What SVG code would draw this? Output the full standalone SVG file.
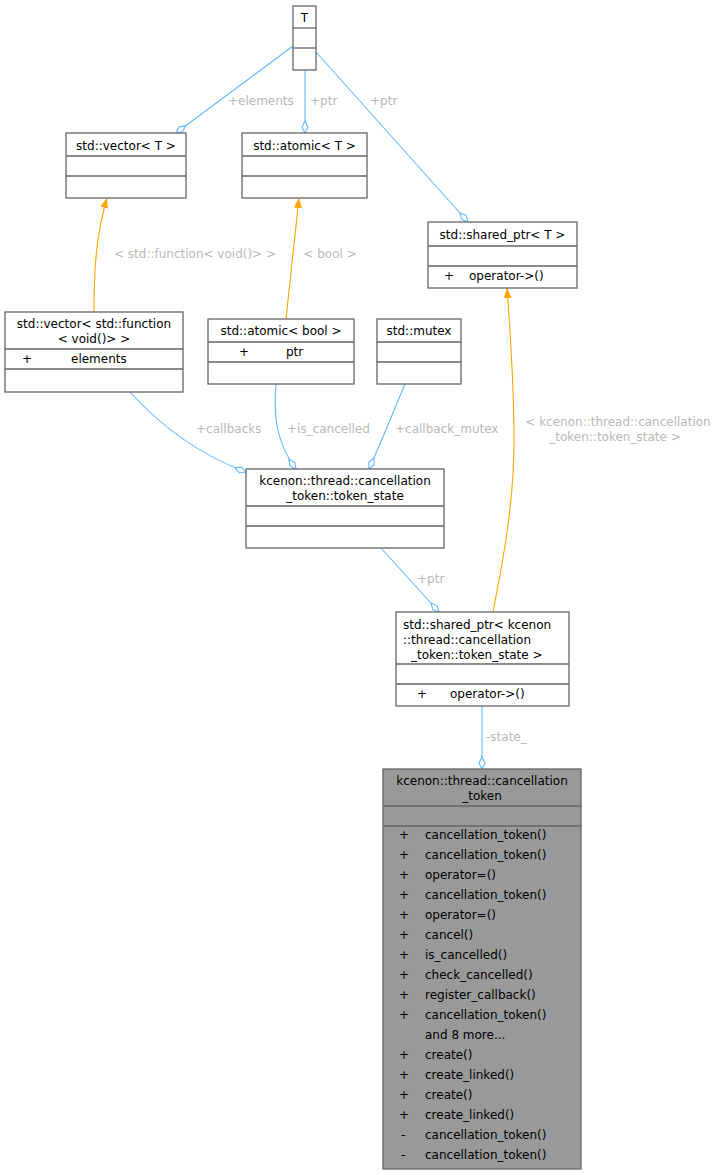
<svg xmlns="http://www.w3.org/2000/svg" width="724" height="1175" viewBox="0 0 724 1175">
<style>
text{font-family:"DejaVu Sans",sans-serif;font-size:12px;fill:#000}
.n rect,.n line{stroke:#666;stroke-width:1.3;fill:#fff}
.n line{fill:none}
.g rect{fill:#999}
.c{text-anchor:middle}
.e path{fill:none;stroke-width:1.1}
.b{stroke:#63b8ff}
.o{stroke:#ffa500}
.l{fill:#b8b8b8;font-size:12px}
</style>
<defs>
<marker id="d" viewBox="0 0 14 8" refX="13" refY="4" markerWidth="14" markerHeight="8" markerUnits="userSpaceOnUse" orient="auto"><path d="M1,4 L7,1 L13,4 L7,7 Z" fill="#fff" stroke="#63b8ff" stroke-width="1.1"/></marker>
<marker id="a" viewBox="0 0 10 10" refX="10" refY="5" markerWidth="10" markerHeight="10" markerUnits="userSpaceOnUse" orient="auto"><path d="M0,1 L10,5 L0,9 Z" fill="#ffa500"/></marker>
</defs>
<rect width="724" height="1175" fill="#fff"/>
<g class="e" id="edges">
<path class="b" d="M293,46 L176,133" marker-end="url(#d)"/>
<path class="b" d="M305,70 L305,133" marker-end="url(#d)"/>
<path class="b" d="M316,52 L468,222" marker-end="url(#d)"/>
<path class="o" d="M94,312 C94,270 96,235 107,198" marker-end="url(#a)"/>
<path class="o" d="M286,319 L299,198" marker-end="url(#a)"/>
<path class="o" d="M493,612 C505,550 514,500 514,440 C514,380 510,330 507,288" marker-end="url(#a)"/>
<path class="b" d="M130,392 C160,425 200,455 246,472" marker-end="url(#d)"/>
<path class="b" d="M276,384 C273,420 278,445 296,469" marker-end="url(#d)"/>
<path class="b" d="M405,384 C392,415 382,440 369,469" marker-end="url(#d)"/>
<path class="b" d="M381,548 L439,612" marker-end="url(#d)"/>
<path class="b" d="M482,706 L482,769" marker-end="url(#d)"/>
<text class="l" x="228" y="105">+elements</text>
<text class="l" x="310" y="105">+ptr</text>
<text class="l" x="370" y="105">+ptr</text>
<text class="l c" x="195" y="258">&lt; std::function&lt; void()&gt; &gt;</text>
<text class="l c" x="330" y="258">&lt; bool &gt;</text>
<text class="l c" x="618" y="426">&lt; kcenon::thread::cancellation</text>
<text class="l c" x="615" y="441">_token::token_state &gt;</text>
<text class="l" x="196" y="433">+callbacks</text>
<text class="l" x="287" y="433">+is_cancelled</text>
<text class="l" x="395" y="433">+callback_mutex</text>
<text class="l" x="417" y="583">+ptr</text>
<text class="l" x="486" y="741">-state_</text>
</g>
<g class="n" id="T"><rect x="293" y="6" width="23" height="64"/><line x1="293" y1="28" x2="316" y2="28"/><line x1="293" y1="48" x2="316" y2="48"/><text class="c" x="304.5" y="22">T</text></g>
<g class="n" id="vecT"><rect x="66" y="133" width="120" height="65"/><line x1="66" y1="156" x2="186" y2="156"/><line x1="66" y1="176" x2="186" y2="176"/><text class="c" x="126" y="150">std::vector&lt; T &gt;</text></g>
<g class="n" id="atomT"><rect x="242" y="133" width="125" height="65"/><line x1="242" y1="156" x2="367" y2="156"/><line x1="242" y1="176" x2="367" y2="176"/><text class="c" x="304.5" y="150">std::atomic&lt; T &gt;</text></g>
<g class="n" id="sptrT"><rect x="428" y="222" width="149" height="66"/><line x1="428" y1="246" x2="577" y2="246"/><line x1="428" y1="266" x2="577" y2="266"/><text class="c" x="502.5" y="239">std::shared_ptr&lt; T &gt;</text><text x="444" y="280">+</text><text x="469" y="280">operator-&gt;()</text></g>
<g class="n" id="vecF"><rect x="5" y="312" width="178" height="80"/><line x1="5" y1="349" x2="183" y2="349"/><line x1="5" y1="369" x2="183" y2="369"/><text class="c" x="94" y="328">std::vector&lt; std::function</text><text class="c" x="94" y="343">&lt; void()&gt; &gt;</text><text x="22" y="363">+</text><text x="71" y="363">elements</text></g>
<g class="n" id="atomB"><rect x="208" y="319" width="146" height="65"/><line x1="208" y1="342" x2="354" y2="342"/><line x1="208" y1="362" x2="354" y2="362"/><text class="c" x="281" y="335">std::atomic&lt; bool &gt;</text><text x="239" y="356">+</text><text x="286" y="356">ptr</text></g>
<g class="n" id="mutex"><rect x="377" y="319" width="84" height="65"/><line x1="377" y1="342" x2="461" y2="342"/><line x1="377" y1="362" x2="461" y2="362"/><text class="c" x="419" y="335">std::mutex</text></g>
<g class="n" id="ts"><rect x="246" y="469" width="198" height="79"/><line x1="246" y1="506" x2="444" y2="506"/><line x1="246" y1="526" x2="444" y2="526"/><text class="c" x="345" y="485">kcenon::thread::cancellation</text><text class="c" x="345" y="500">_token::token_state</text></g>
<g class="n" id="sptrTS"><rect x="396" y="612" width="173" height="94"/><line x1="396" y1="664" x2="569" y2="664"/><line x1="396" y1="684" x2="569" y2="684"/><text x="403" y="629">std::shared_ptr&lt; kcenon</text><text x="403" y="644">::thread::cancellation</text><text x="411" y="659">_token::token_state &gt;</text><text x="417" y="698">+</text><text x="450" y="698">operator-&gt;()</text></g>
<g class="n g" id="ct"><rect x="383" y="769" width="198" height="400"/><line x1="383" y1="806" x2="581" y2="806"/><line x1="383" y1="826" x2="581" y2="826"/><text class="c" x="482" y="785">kcenon::thread::cancellation</text><text class="c" x="482" y="800">_token</text>
<text x="399" y="839">+</text><text x="425" y="839">cancellation_token()</text>
<text x="399" y="859">+</text><text x="425" y="859">cancellation_token()</text>
<text x="399" y="879">+</text><text x="425" y="879">operator=()</text>
<text x="399" y="899">+</text><text x="425" y="899">cancellation_token()</text>
<text x="399" y="919">+</text><text x="425" y="919">operator=()</text>
<text x="399" y="939">+</text><text x="425" y="939">cancel()</text>
<text x="399" y="959">+</text><text x="425" y="959">is_cancelled()</text>
<text x="399" y="979">+</text><text x="425" y="979">check_cancelled()</text>
<text x="399" y="999">+</text><text x="425" y="999">register_callback()</text>
<text x="399" y="1019">+</text><text x="425" y="1019">cancellation_token()</text>
<text x="425" y="1039">and 8 more...</text>
<text x="399" y="1059">+</text><text x="425" y="1059">create()</text>
<text x="399" y="1079">+</text><text x="425" y="1079">create_linked()</text>
<text x="399" y="1099">+</text><text x="425" y="1099">create()</text>
<text x="399" y="1119">+</text><text x="425" y="1119">create_linked()</text>
<text x="401" y="1139">-</text><text x="425" y="1139">cancellation_token()</text>
<text x="401" y="1159">-</text><text x="425" y="1159">cancellation_token()</text>
</g>
</svg>
